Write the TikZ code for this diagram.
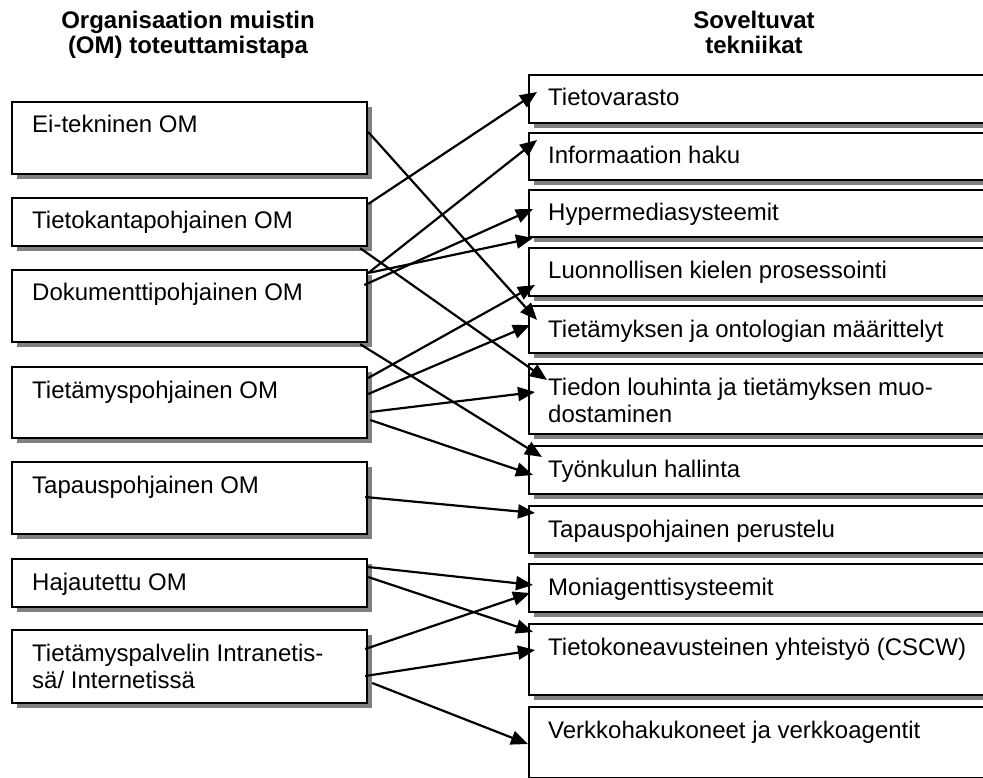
\documentclass[tikz,border=0pt]{standalone}
\usepackage{fontspec}
\setmainfont{Liberation Sans}
\usetikzlibrary{arrows.meta,calc,shadows}
\definecolor{shadowgray}{HTML}{808080}
\begin{document}
\begin{tikzpicture}[x=1pt,y=-1pt,
  box/.style={draw=black, line width=2.2pt, fill=white, inner sep=0pt,
    anchor=north west, minimum height=#1,
    general shadow={fill=shadowgray, shadow xshift=5pt, shadow yshift=-5pt}},
  lbox/.style={box=#1, minimum width=355pt},
  rbox/.style={box=#1, minimum width=500pt},
  txt/.style={anchor=base west, inner sep=0pt, font=\fontsize{24}{27.7}\selectfont},
  head/.style={anchor=base, inner sep=0pt, font=\fontsize{24}{27.7}\selectfont\bfseries},
  link/.style={line width=2.2pt, -{Triangle[length=17pt,width=14pt]}}]
\clip (0,0) rectangle (983,778);
\fill[white] (0,0) rectangle (983,778);

% column headings
\node[head] (hl1) at (188,29) {Organisaation muistin};
\node[head] (hl2) at (188,54) {(OM) toteuttamistapa};
\node[head] (hr1) at (754,29) {Soveltuvat};
\node[head] (hr2) at (754,54) {tekniikat};

% ways of implementing an organisational memory
\node[lbox=72pt] (ei) at (11,101) {};
\node[lbox=48pt] (kanta) at (11,197) {};
\node[lbox=72pt] (doku) at (11,269) {};
\node[lbox=71pt] (tmys) at (11,366) {};
\node[lbox=72pt] (tapaus) at (11,461) {};
\node[lbox=48pt] (hajaut) at (11,558) {};
\node[lbox=73pt] (palv) at (11,629) {};

\node[txt] (tei) at ($(ei.north west)+(21,32)$) {Ei-tekninen OM};
\node[txt] (tkanta) at ($(kanta.north west)+(21,32)$) {Tietokantapohjainen OM};
\node[txt] (tdoku) at ($(doku.north west)+(21,32)$) {Dokumenttipohjainen OM};
\node[txt] (ttmys) at ($(tmys.north west)+(21,32)$) {Tietämyspohjainen OM};
\node[txt] (ttapaus) at ($(tapaus.north west)+(21,32)$) {Tapauspohjainen OM};
\node[txt] (thajaut) at ($(hajaut.north west)+(21,32)$) {Hajautettu OM};
\node[txt] (tpalv1) at ($(palv.north west)+(21,32)$) {Tietämyspalvelin Intranetis-};
\node[txt] (tpalv2) at ($(palv.north west)+(21,59.7)$) {sä/ Internetissä};

% applicable techniques
\node[rbox=48pt] (tv) at (528,74) {};
\node[rbox=47pt] (ih) at (528,132) {};
\node[rbox=47pt] (hm) at (528,189) {};
\node[rbox=48pt] (lk) at (528,247) {};
\node[rbox=47pt] (to) at (528,305) {};
\node[rbox=70pt] (tl) at (528,363) {};
\node[rbox=48pt] (tk) at (528,445) {};
\node[rbox=47pt] (tp) at (528,505) {};
\node[rbox=48pt] (ma) at (528,563) {};
\node[rbox=71pt] (cs) at (528,623) {};
\node[rbox=71pt] (vk) at (528,706) {};

\node[txt] (ttv) at ($(tv.north west)+(20,32)$) {Tietovarasto};
\node[txt] (tih) at ($(ih.north west)+(20,32)$) {Informaation haku};
\node[txt] (thm) at ($(hm.north west)+(20,32)$) {Hypermediasysteemit};
\node[txt] (tlk) at ($(lk.north west)+(20,32)$) {Luonnollisen kielen prosessointi};
\node[txt] (tto) at ($(to.north west)+(20,32)$) {Tietämyksen ja ontologian määrittelyt};
\node[txt] (ttl1) at ($(tl.north west)+(20,32)$) {Tiedon louhinta ja tietämyksen muo-};
\node[txt] (ttl2) at ($(tl.north west)+(20,59.7)$) {dostaminen};
\node[txt] (ttk) at ($(tk.north west)+(20,32)$) {Työnkulun hallinta};
\node[txt] (ttp) at ($(tp.north west)+(20,32)$) {Tapauspohjainen perustelu};
\node[txt] (tma) at ($(ma.north west)+(20,32)$) {Moniagenttisysteemit};
\node[txt] (tcs) at ($(cs.north west)+(20,32)$) {Tietokoneavusteinen yhteistyö (CSCW)};
\node[txt] (tvk) at ($(vk.north west)+(20,32)$) {Verkkohakukoneet ja verkkoagentit};

% connections
\draw[link] ($(ei.north east)+(0,31)$) -- ($(to.north west)+(9,15)$);
\draw[link] ($(kanta.north east)+(0,7)$) -- ($(tv.north west)+(9,18)$);
\draw[link] ($(kanta.south east)+(-8,1)$) -- ($(tl.north west)+(19,17)$);
\draw[link] ($(doku.north east)+(0,4)$) -- ($(ih.north west)+(9,8)$);
\draw[link] ($(doku.north east)+(0,4)$) -- ($(hm.north west)+(5,49)$);
\draw[link] ($(doku.north east)+(-4,16)$) -- ($(hm.north west)+(5,20)$);
\draw[link] ($(doku.south east)+(-8,1)$) -- ($(tk.north west)+(14,12)$);
\draw[link] ($(tmys.north east)+(0,12)$) -- ($(lk.north west)+(7,38)$);
\draw[link] ($(tmys.north east)+(0,28)$) -- ($(to.north west)+(2,20)$);
\draw[link] ($(tmys.north east)+(2,46)$) -- ($(tl.north west)+(7,29)$);
\draw[link] ($(tmys.north east)+(2,54)$) -- ($(tk.north west)+(5,30)$);
\draw[link] ($(tapaus.north east)+(-3,36)$) -- ($(tp.north west)+(7,8)$);
\draw[link] ($(hajaut.north east)+(0,9)$) -- ($(ma.north west)+(5,22)$);
\draw[link] ($(hajaut.north east)+(0,19)$) -- ($(cs.north west)+(5,9)$);
\draw[link] ($(palv.north east)+(-3,20)$) -- ($(ma.north west)+(2,30)$);
\draw[link] ($(palv.north east)+(-3,47)$) -- ($(cs.north west)+(7,27)$);
\draw[link] ($(palv.north east)+(4,54)$) -- ($(vk.north west)+(0,38)$);
\end{tikzpicture}
\end{document}
